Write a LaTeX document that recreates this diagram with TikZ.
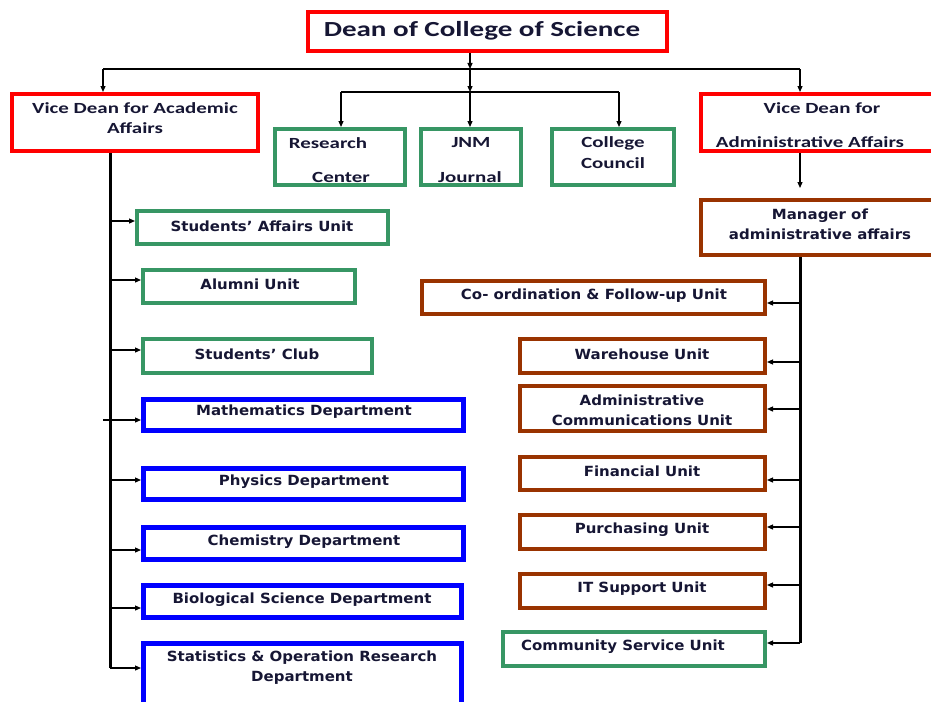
\documentclass[tikz,border=0pt]{standalone}
\usepackage{fontspec}
\usetikzlibrary{arrows.meta}
\newfontfamily\fa{Carlito}[FakeStretch=1.35]
\newfontfamily\fb{DejaVu Sans}[FakeStretch=1.07]
\definecolor{cred}{RGB}{255,0,0}
\definecolor{cgreen}{RGB}{55,150,100}
\definecolor{cblue}{RGB}{0,0,255}
\definecolor{cbrown}{RGB}{153,51,0}
\definecolor{txt}{RGB}{22,22,52}
\tikzset{
  box/.style={draw, line width=4pt, inner sep=0pt, fill=white},
  redbox/.style={box, draw=cred},
  greenbox/.style={box, draw=cgreen},
  bluebox/.style={box, draw=cblue, line width=5pt},
  brownbox/.style={box, draw=cbrown},
  ta/.style={text=txt, font=\fa\bfseries\fontsize{15.5}{19}\selectfont, align=center, inner sep=0pt},
  tb/.style={text=txt, font=\fb\bfseries\fontsize{14}{20}\selectfont, align=center, inner sep=0pt},
  arr/.style={line width=1.2pt, -{Triangle[length=6pt,width=5pt]}},
  tline/.style={line width=1.6pt},
  spine/.style={line width=3pt},
}
\begin{document}
\begin{tikzpicture}[x=1pt,y=-1pt]
\useasboundingbox (0,0) rectangle (931,701);
% top level
\node[redbox, minimum width=359pt, minimum height=39pt] (dean) at (487.5,31.5) {};
\node[ta, font=\fa\bfseries\fontsize{21.5}{24}\selectfont] (deant) at (482,31) {Dean of College of Science};
\node[redbox, minimum width=246pt, minimum height=57pt] (vda) at (135,122.5) {};
\node[ta] (vdat1) at (135,108) {Vice Dean for Academic};
\node[ta] (vdat2) at (135,128) {Affairs};
\node[greenbox, minimum width=130pt, minimum height=56pt] (res) at (340,157) {};
\node[ta] (rest1) at (328,143) {Research};
\node[ta] (rest2) at (341,177) {Center};
\node[greenbox, minimum width=100pt, minimum height=56pt] (jnm) at (471,157) {};
\node[ta] (jnmt1) at (471,143) {JNM};
\node[ta] (jnmt2) at (470,177) {Journal};
\node[greenbox, minimum width=122pt, minimum height=56pt] (cc) at (613,157) {};
\node[ta] (cct1) at (613,143) {College};
\node[ta] (cct2) at (613,163) {Council};
\node[redbox, minimum width=232pt, minimum height=57pt] (vdm) at (817,122.5) {};
\node[ta] (vdmt1) at (822,108) {Vice Dean for};
\node[ta] (vdmt2) at (810,142) {Administrative Affairs};
\node[brownbox, minimum width=232pt, minimum height=55pt] (mgr) at (817,227.5) {};
\node[tb] (mgrt) at (820,224) {Manager of\\administrative affairs};
% left column
\node[greenbox, minimum width=251pt, minimum height=33pt] (saf) at (262.5,227.5) {};
\node[tb] (saft) at (262,226) {Students’ Affairs Unit};
\node[greenbox, minimum width=212pt, minimum height=33pt] (alu) at (249,286.5) {};
\node[tb] (alut) at (250,284) {Alumni Unit};
\node[greenbox, minimum width=229pt, minimum height=34pt] (clb) at (257.5,356) {};
\node[tb] (clbt) at (257,354) {Students’ Club};
\node[bluebox, minimum width=320pt, minimum height=31pt] (math) at (303.5,415) {};
\node[tb] (matht) at (304,412) {Mathematics Department};
\node[bluebox, minimum width=320pt, minimum height=31pt] (phy) at (303.5,484) {};
\node[tb] (phyt) at (304,482) {Physics Department};
\node[bluebox, minimum width=320pt, minimum height=32pt] (chem) at (303.5,543.5) {};
\node[tb] (chemt) at (304,542) {Chemistry Department};
\node[bluebox, minimum width=318pt, minimum height=32pt] (bio) at (302.5,601.5) {};
\node[tb] (biot) at (302,600) {Biological Science Department};
\node[bluebox, minimum width=318pt, minimum height=64pt] (stat) at (302.5,675.5) {};
\node[tb] (statt) at (302,668) {Statistics \& Operation Research\\Department};
% right column
\node[brownbox, minimum width=343pt, minimum height=33pt] (coord) at (593.5,297.5) {};
\node[tb] (coordt) at (594,296) {Co- ordination \& Follow-up Unit};
\node[brownbox, minimum width=245pt, minimum height=34pt] (ware) at (642.5,356) {};
\node[tb] (waret) at (642,354) {Warehouse Unit};
\node[brownbox, minimum width=245pt, minimum height=45pt] (adm) at (642.5,408.5) {};
\node[tb] (admt) at (642,410.5) {Administrative\\Communications Unit};
\node[brownbox, minimum width=245pt, minimum height=33pt] (fin) at (642.5,473.5) {};
\node[tb] (fint) at (642,471) {Financial Unit};
\node[brownbox, minimum width=245pt, minimum height=34pt] (pur) at (642.5,532) {};
\node[tb] (purt) at (642,530) {Purchasing Unit};
\node[brownbox, minimum width=245pt, minimum height=34pt] (it) at (642.5,591) {};
\node[tb] (itt) at (642,589) {IT Support Unit};
\node[greenbox, minimum width=262pt, minimum height=34pt] (com) at (634,649) {};
\node[tb] (comt) at (623,647) {Community Service Unit};
% top connectors
\coordinate (j1) at (470,69);
\coordinate (j2) at (470,92);
\coordinate (jl) at (103,69);
\coordinate (jr) at (800,69);
\coordinate (kl) at (341,92);
\coordinate (kr) at (619,92);
\coordinate (mtip) at (800,188);
\draw[arr] (dean.south -| j1) -- (j1);
\draw[tline] (jl) -- (jr);
\draw[arr] (jl) -- (vda.north -| jl);
\draw[arr] (jr) -- (vdm.north -| jr);
\draw[arr] (j1) -- (j2);
\draw[arr] (j2) -- (jnm.north -| j2);
\draw[tline] (kl) -- (kr);
\draw[arr] (kl) -- (res.north -| kl);
\draw[arr] (kr) -- (cc.north -| kr);
\draw[arr] (vdm.south -| mtip) -- (mtip);
% left spine
\coordinate (ls) at (110,668);
\draw[spine] (vda.south -| ls) -- (ls);
\draw[arr] (110,221) -- (saf.west |- 0,221);
\draw[arr] (110,280) -- (alu.west |- 0,280);
\draw[arr] (110,350) -- (clb.west |- 0,350);
\draw[arr] (103,420) -- (math.west |- 0,420);
\draw[arr] (110,480) -- (phy.west |- 0,480);
\draw[arr] (110,550) -- (chem.west |- 0,550);
\draw[arr] (110,608) -- (bio.west |- 0,608);
\draw[arr] (110,668) -- (stat.west |- 0,668);
% right spine
\coordinate (rs) at (800,643);
\draw[spine] (mgr.south -| rs) -- (rs);
\draw[arr] (800,303) -- (coord.east |- 0,303);
\draw[arr] (800,362) -- (ware.east |- 0,362);
\draw[arr] (800,409) -- (adm.east |- 0,409);
\draw[arr] (800,480) -- (fin.east |- 0,480);
\draw[arr] (800,527) -- (pur.east |- 0,527);
\draw[arr] (800,585) -- (it.east |- 0,585);
\draw[arr] (800,643) -- (com.east |- 0,643);
\end{tikzpicture}
\end{document}
